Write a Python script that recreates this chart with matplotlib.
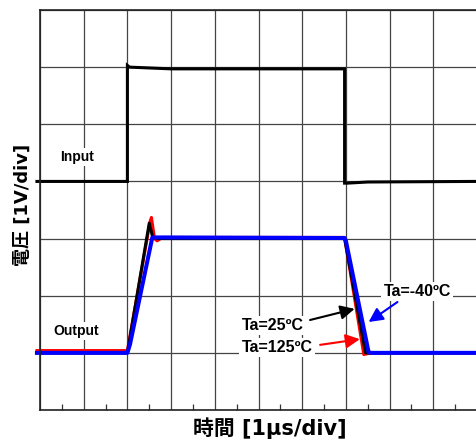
import numpy as np
import matplotlib
matplotlib.use("Agg")
import matplotlib.pyplot as plt

# time in divisions (1 us/div), voltage in divisions (1 V/div)
t_input = [-0.07, 2.0, 2.0, 2.05, 3.0, 6.97, 6.97, 7.03, 7.5, 9.95]
v_input = [4.0, 4.0, 6.03, 6.0, 5.97, 5.97, 3.97, 3.97, 3.99, 4.0]

t_125 = [-0.07, 2.0, 2.52, 2.55, 2.62, 2.68, 2.8, 6.97, 7.41, 7.46, 7.6, 9.95]
v_125 = [1.04, 1.04, 3.3, 3.37, 3.0, 2.96, 3.02, 3.02, 0.97, 0.98, 1.0, 1.0]

t_25 = [-0.07, 2.0, 2.5, 2.58, 2.7, 6.97, 7.45, 9.95]
v_25 = [1.0, 1.0, 3.27, 3.02, 3.0, 3.0, 1.0, 1.0]

t_m40 = [-0.07, 2.0, 2.06, 2.57, 2.63, 6.97, 7.0, 7.52, 7.58, 9.95]
v_m40 = [1.0, 1.0, 1.15, 3.02, 3.02, 3.01, 2.96, 1.01, 1.0, 1.0]

labels = ["Ta=25ºC", "Ta=125ºC", "Ta=-40ºC"]
colors = ["black", "red", "blue"]

fig = plt.figure(figsize=(4.77, 4.41), dpi=100)
ax = fig.add_axes([40 / 477, 31 / 441, 437 / 477, 400 / 441])

ax.set_xlim(0, 437 / 44)
ax.set_ylim(0, 7)
ax.set_xticks(np.arange(0, 11))
ax.set_yticks(np.arange(0, 8))
ax.set_xticks(np.arange(0.5, 10, 1), minor=True)
ax.tick_params(which="major", length=0, labelbottom=False, labelleft=False)
ax.tick_params(which="minor", axis="x", direction="in", length=4, width=0.9,
               color="#333333")
ax.grid(True, which="major", color="#444444", lw=0.9)
ax.set_axisbelow(True)
ax.spines["right"].set_visible(False)
for s in ("left", "top", "bottom"):
    ax.spines[s].set_color("#222222")
    ax.spines[s].set_linewidth(1.2)

ax.plot(t_input, v_input, color="black", lw=2.2, clip_on=False,
        solid_joinstyle="miter")
ax.plot(t_125, v_125, color="red", lw=2.2, clip_on=False)
ax.plot(t_25, v_25, color="black", lw=2.2, clip_on=False)
ax.plot(t_m40, v_m40, color="blue", lw=2.9, clip_on=False)

box = dict(boxstyle="square,pad=0.15", fc="white", ec="none")
ax.text(0.455, 4.358, "Input", family="Liberation Sans", weight="bold",
        fontsize=10, va="baseline", bbox=box)
ax.text(0.303, 1.31, "Output", family="Liberation Sans", weight="bold",
        fontsize=10, va="baseline", bbox=box)

ax.text(4.614, 1.40, labels[0], family="Liberation Sans", weight="bold",
        fontsize=11.5, va="baseline", bbox=box)
ax.text(4.614, 1.015, labels[1], family="Liberation Sans", weight="bold",
        fontsize=11.5, va="baseline", bbox=box)
ax.text(7.864, 1.995, labels[2], family="Liberation Sans", weight="bold",
        fontsize=11.5, va="baseline", bbox=box)

arrow = "-|>,head_length=0.5,head_width=0.25"
for (tail, tip), c in zip([((6.18, 1.575), (7.20, 1.77)),
                           ((6.41, 1.14), (7.32, 1.24)),
                           ((8.18, 1.89), (7.52, 1.54))], colors):
    ax.annotate("", xy=tip, xytext=tail,
                arrowprops=dict(arrowstyle=arrow, color=c, lw=1.5,
                                mutation_scale=17, shrinkA=0, shrinkB=0))

fig.text(23 / 477, 1 - 205 / 441, "電圧 [1V/div]", rotation=90,
         ha="center", va="center", fontsize=13, weight="bold",
         family=["DejaVu Sans", "Noto Sans CJK JP"])
fig.text(269.5 / 477, 1 - 428 / 441, "時間 [1µs/div]",
         ha="center", va="center", fontsize=15, weight="bold",
         family=["DejaVu Sans", "Noto Sans CJK JP"])

fig.savefig("out.png", dpi=100)
